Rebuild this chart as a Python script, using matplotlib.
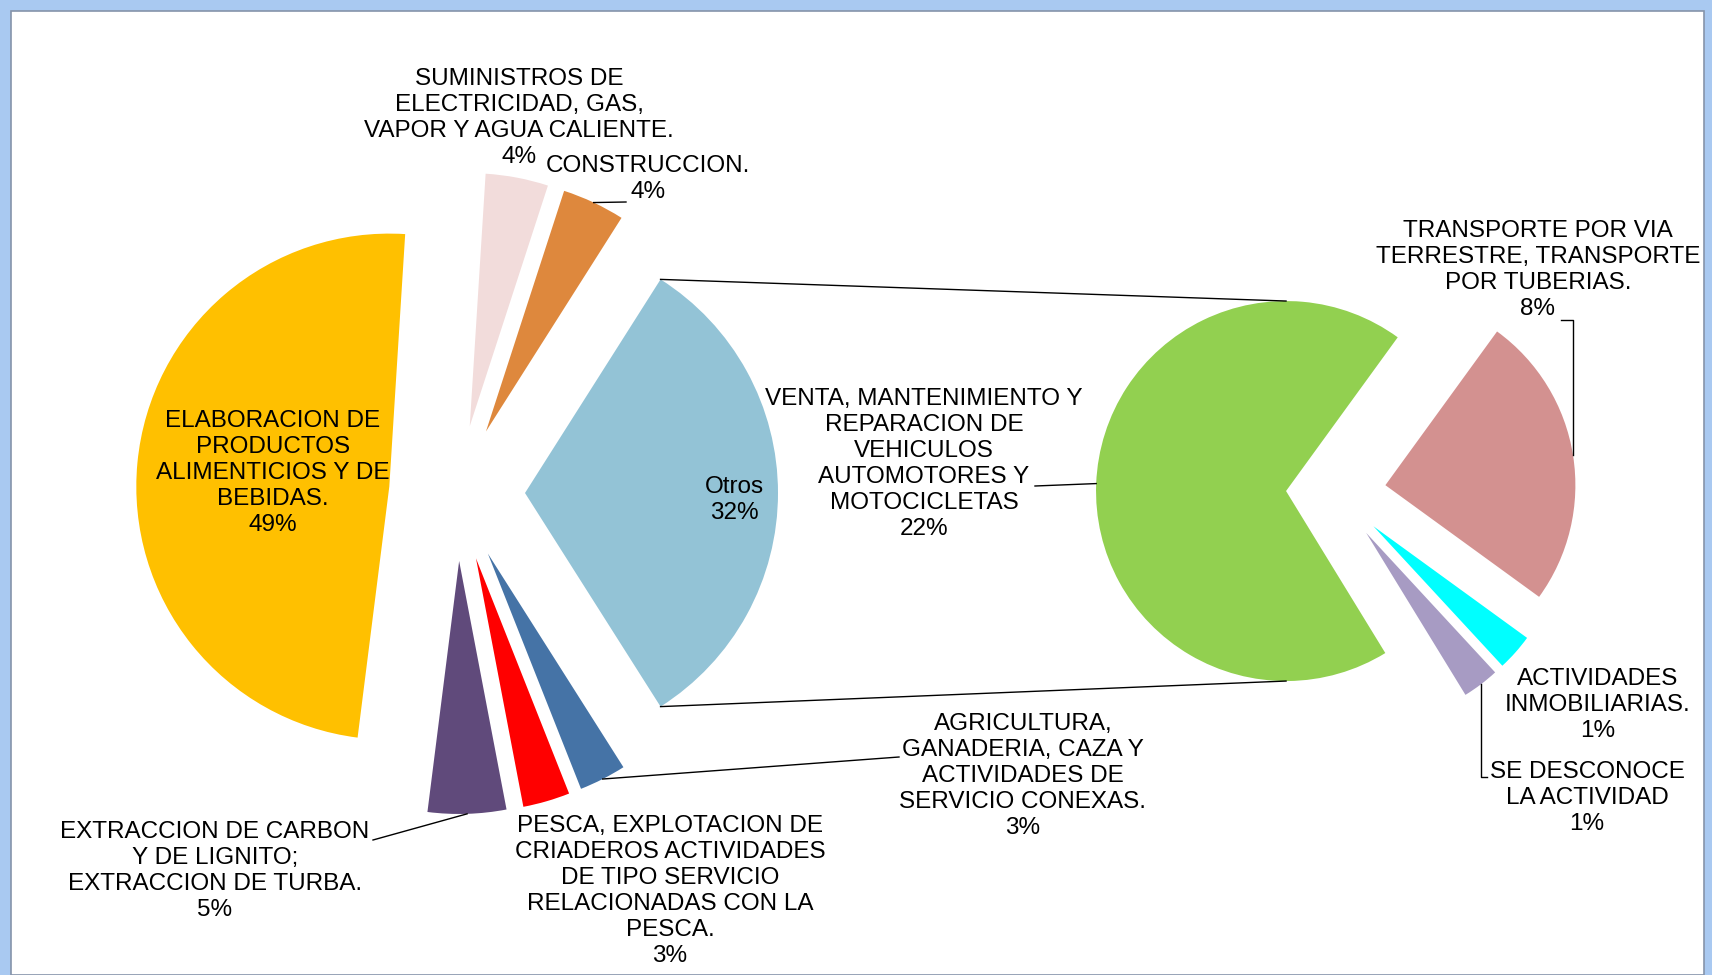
"""Pie-of-pie: participation by economic activity, with 'Otros' broken out."""

import math

import matplotlib

matplotlib.use("Agg")

import matplotlib.pyplot as plt  # noqa: E402
from matplotlib.patches import Rectangle  # noqa: E402

# primary pie, counter-clockwise starting with the "Otros" wedge
main_names = [
    "Otros",
    "CONSTRUCCION.",
    "SUMINISTROS DE\nELECTRICIDAD, GAS,\nVAPOR Y AGUA CALIENTE.",
    "ELABORACION DE\nPRODUCTOS\nALIMENTICIOS Y DE\nBEBIDAS.",
    "EXTRACCION DE CARBON\nY DE LIGNITO;\nEXTRACCION DE TURBA.",
    "PESCA, EXPLOTACION DE\nCRIADEROS ACTIVIDADES\nDE TIPO SERVICIO\nRELACIONADAS CON LA\nPESCA.",
    "AGRICULTURA,\nGANADERIA, CAZA Y\nACTIVIDADES DE\nSERVICIO CONEXAS.",
]
main_values = [32, 4, 4, 49, 5, 3, 3]
main_colors = ["#93C3D6", "#DE883D", "#F2DCDB", "#FFC000", "#604A7B", "#FF0000", "#4573A6"]

# secondary pie (breakdown of "Otros"), clockwise
sub_names = [
    "VENTA, MANTENIMIENTO Y\nREPARACION DE\nVEHICULOS\nAUTOMOTORES Y\nMOTOCICLETAS",
    "TRANSPORTE POR VIA\nTERRESTRE, TRANSPORTE\nPOR TUBERIAS.",
    "ACTIVIDADES\nINMOBILIARIAS.",
    "SE DESCONOCE\nLA ACTIVIDAD",
]
sub_values = [22, 8, 1, 1]
sub_colors = ["#92D050", "#D39190", "#00FFFF", "#A79BC3"]

W, H = 1712, 975
# label anchors in pixel space (x, y from top)
main_label_pos = [(734, 500), (648, 179), (519, 118), (273, 473), (215, 871), (670, 891), (1023, 776)]
sub_label_pos = [(924, 464), (1538, 270), (1598, 705), (1587, 798)]

FONT = dict(family="Liberation Sans", fontsize=17.5, color="black",
            ha="center", va="center", linespacing=1.23)


def py(y):
    """Pixel row (from top) to data y."""
    return H - y


def rim(w, frac=0.5):
    """Point on the outer arc of wedge ``w`` at fraction ``frac`` of its sweep."""
    a = math.radians(w.theta1 + frac * (w.theta2 - w.theta1))
    cx, cy = w.center
    return cx + w.r * math.cos(a), cy + w.r * math.sin(a)


fig = plt.figure(figsize=(W / 100, H / 100), dpi=100)
fig.patch.set_facecolor("#A9C9F1")
fig.add_artist(Rectangle((11 / W, 0), (1704 - 11) / W, (H - 11) / H, transform=fig.transFigure,
                         facecolor="white", edgecolor="#8594AA", linewidth=1.2, zorder=-1))
ax = fig.add_axes([0, 0, 1, 1])

total = sum(main_values)
start = -main_values[0] / total * 180
w1, _ = ax.pie(main_values, colors=main_colors, startangle=start, counterclock=True,
               radius=253, center=(457, py(493)), explode=[68] * len(main_values),
               wedgeprops=dict(linewidth=0))
w2, _ = ax.pie(sub_values, colors=sub_colors, startangle=301.5, counterclock=False,
               radius=190, center=(1336, py(493)), explode=[50] * len(sub_values),
               wedgeprops=dict(linewidth=0))
ax.set_xlim(0, W)
ax.set_ylim(0, H)
ax.set_aspect("equal")
ax.axis("off")

# connector lines between "Otros" and the second pie
otros = w1[0]
gx, gy = w2[0].center
for ang, sign in ((otros.theta2, 1), (otros.theta1, -1)):
    a = math.radians(ang)
    x0 = otros.center[0] + otros.r * math.cos(a)
    y0 = otros.center[1] + otros.r * math.sin(a)
    ax.plot([x0, gx], [y0, gy + sign * w2[0].r], color="black", lw=1)

# data labels
for name, val, (x, y) in zip(main_names, main_values, main_label_pos):
    ax.text(x, py(y), f"{name}\n{val}%", **FONT)
for name, val, (x, y) in zip(sub_names, sub_values, sub_label_pos):
    ax.text(x, py(y), f"{name}\n{val}%", **FONT)

# leader lines
lk = dict(color="black", lw=1)
x, y = rim(w1[1])
ax.plot([x, 626], [y, py(202)], **lk)
x, y = rim(w1[6])
ax.plot([x, 899], [y, py(757)], **lk)
x, y = rim(w1[4])
ax.plot([x, 373], [y, py(840)], **lk)
x, y = rim(w2[0])
ax.plot([x, 1035], [y, py(486)], **lk)
x, y = rim(w2[1])
ax.plot([1561, x, x], [py(320), py(320), y], **lk)
x, y = rim(w2[3])
ax.plot([x, x, 1487], [y, py(777), py(777)], **lk)

fig.savefig("out.png", dpi=100, facecolor=fig.get_facecolor())
